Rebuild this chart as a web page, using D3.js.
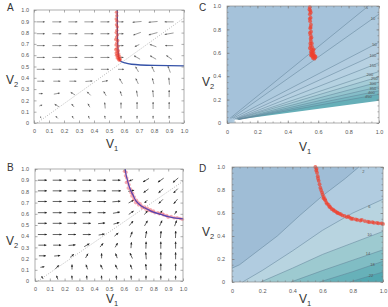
<!DOCTYPE html>
<html>
<head>
<meta charset="utf-8">
<script src="https://cdn.jsdelivr.net/npm/d3@7"></script>
<style>
  body { margin: 0; background: #fff; }
  svg { display: block; }
  text { font-family: "Liberation Sans", Arial, sans-serif; }
</style>
</head>
<body>
<svg id="fig" width="388" height="307"></svg>
<script>
// ---------- data ----------
const abTicks = [0, 0.1, 0.2, 0.3, 0.4, 0.5, 0.6, 0.7, 0.8, 0.9, 1.0];
const cdTicks = [0, 0.2, 0.4, 0.6, 0.8, 1.0];

// panel A vector field (angle in degrees, 0 = right, 90 = up; length in px)
const aCols = [0.045, 0.152, 0.259, 0.366, 0.473, 0.58, 0.687, 0.794, 0.901];
const aRows = [0.895, 0.79, 0.685, 0.58, 0.475, 0.37, 0.26, 0.155, 0.05];
const aAng = [
  [0, 0, 0, 0, 0, 0, 185, 185, 180],
  [0, 0, 0, 0, 0, 0, 200, 195, 190],
  [0, 0, 0, 0, 0, 0, 205, 160, 180],
  [0, 0, 0, 0, 0, 0, 150, 150, 145],
  [0, 0, 0, 0, 0, 0, 120, 115, 110],
  [0, 0, 0, 5, 10, 120, 115, 105, 95],
  [0, 10, 150, 135, 120, 110, 100, 95, 90],
  [20, 150, 130, 120, 95, 90, 90, 90, 90],
  [135, 135, 125, 110, 100, 90, 90, 90, 90]
];
const aLen = [
  [8, 9, 9, 9, 9, 5, 9, 9, 9],
  [8, 9, 9, 9, 9, 5, 8, 9, 9],
  [8, 9, 9, 9, 9, 5, 5, 7, 8],
  [8, 9, 9, 9, 9, 5, 7, 7, 7],
  [8, 9, 9, 9, 8, 6, 6, 6, 7],
  [7, 7, 7, 7, 6, 6, 6, 6, 7],
  [4, 6, 5, 5, 5, 5, 6, 7, 7],
  [3, 5, 4, 4, 6, 6, 7, 7, 7],
  [2, 3, 3, 3, 3, 3, 3, 3, 3]
];
const aCurve = [[0.555, 1.0], [0.556, 0.8], [0.56, 0.65], [0.565, 0.58], [0.575, 0.55],
  [0.6, 0.535], [0.65, 0.52], [0.8, 0.51], [1.0, 0.505]];
const aDots = [[0.55, 0.98], [0.552, 0.95], [0.548, 0.92], [0.553, 0.9], [0.55, 0.87], [0.555, 0.85],
  [0.552, 0.82], [0.548, 0.8], [0.556, 0.78], [0.55, 0.76], [0.545, 0.74], [0.558, 0.73], [0.552, 0.71],
  [0.547, 0.69], [0.56, 0.68], [0.553, 0.66], [0.545, 0.65], [0.562, 0.64], [0.555, 0.63], [0.548, 0.62],
  [0.565, 0.61], [0.558, 0.6], [0.55, 0.6], [0.57, 0.59], [0.562, 0.58], [0.555, 0.575], [0.572, 0.57],
  [0.565, 0.565], [0.575, 0.56], [0.568, 0.555]];
const aDiag = [[0.02, 0], [1.0, 0.93]];

// panel B vector field
const bCols = [0.05, 0.15, 0.25, 0.35, 0.45, 0.55, 0.65, 0.75, 0.85, 0.95];
const bRows = [0.9, 0.805, 0.71, 0.61, 0.515, 0.415, 0.32, 0.225, 0.125, 0.03];
const bAng = [
  [0, 0, 0, 0, 0, 0, 200, 210, 215, 220],
  [0, 0, 0, 0, 0, 0, 10, 215, 220, 225],
  [0, 0, 0, 0, 0, 5, 30, 225, 225, 230],
  [0, 0, 0, 0, 0, 10, 35, 50, 55, 60],
  [0, 0, 0, 0, 5, 15, 50, 60, 65, 70],
  [0, 0, 0, 0, 10, 40, 70, 80, 85, 88],
  [0, 0, 5, 30, 50, 60, 85, 88, 90, 90],
  [0, 5, 40, 60, 90, 110, 115, 95, 90, 90],
  [10, 45, 90, 110, 115, 115, 110, 95, 90, 90],
  [120, 110, 95, 95, 95, 95, 95, 90, 90, 90]
];
const bLen = [
  [9, 9, 9, 9, 9, 8, 4, 7, 7, 7],
  [9, 9, 9, 9, 9, 9, 6, 6, 6, 6],
  [9, 9, 9, 9, 9, 8, 6, 4, 6, 6],
  [9, 9, 9, 9, 8, 7, 6, 5, 5, 4],
  [9, 9, 9, 8, 7, 6, 6, 6, 6, 6],
  [9, 9, 8, 8, 6, 5, 6, 7, 7, 7],
  [8, 8, 7, 6, 5, 5, 6, 7, 7, 7],
  [7, 6, 5, 5, 5, 5, 6, 7, 7, 7],
  [4, 5, 5, 5, 5, 5, 5, 6, 7, 7],
  [3, 4, 4, 4, 4, 4, 4, 4, 4, 4]
];
const bCurve = [[0.61, 1.0], [0.615, 0.95], [0.625, 0.9], [0.635, 0.85], [0.65, 0.8], [0.665, 0.76],
  [0.68, 0.72], [0.7, 0.69], [0.73, 0.66], [0.76, 0.64], [0.8, 0.615], [0.85, 0.595], [0.9, 0.575],
  [0.95, 0.562], [1.0, 0.555]];
const bDots = [[0.605, 0.98], [0.615, 0.97], [0.612, 0.94], [0.62, 0.92], [0.628, 0.89], [0.618, 0.88],
  [0.635, 0.86], [0.63, 0.83], [0.645, 0.82], [0.648, 0.79], [0.66, 0.78], [0.655, 0.76], [0.67, 0.75],
  [0.668, 0.73], [0.685, 0.72], [0.68, 0.7], [0.695, 0.7], [0.7, 0.68], [0.71, 0.69], [0.72, 0.67],
  [0.725, 0.655], [0.74, 0.66], [0.75, 0.64], [0.76, 0.65], [0.77, 0.63], [0.78, 0.635], [0.79, 0.62],
  [0.8, 0.625], [0.81, 0.61], [0.83, 0.61], [0.84, 0.6], [0.86, 0.6], [0.87, 0.59], [0.89, 0.585],
  [0.9, 0.57], [0.92, 0.575], [0.94, 0.565], [0.96, 0.565], [0.98, 0.558], [0.995, 0.552]];
const bDiag = [[0.02, 0], [1.0, 0.89]];

// panel C contours (top to bottom), last one = edge of the shaded region
const cLevels = ["5", "10", "50", "100", "150", "200", "250", "300", "350", "400", "450", ""];
const cStartX = [0.02, 0.03, 0.04, 0.05, 0.06, 0.065, 0.07, 0.07, 0.075, 0.075, 0.08, 0.05];
const cStartY = [0.04, 0.04, 0.04, 0.035, 0.035, 0.035, 0.035, 0.03, 0.03, 0.03, 0.03, 0.025];
const cEndX = [0.93, 1, 1, 1, 1, 1, 1, 1, 1, 1, 1, 1];
const cEndY = [1.0, 0.93, 0.69, 0.6, 0.515, 0.44, 0.395, 0.35, 0.31, 0.275, 0.245, 0.19];
const cLabX = [0.92, 0.96, 0.97, 0.96, 0.96, 0.94, 0.97, 0.96, 0.96, 0.95, 0.93];
const cDots = [[0.545, 0.99], [0.548, 0.96], [0.545, 0.93], [0.55, 0.9], [0.547, 0.87], [0.552, 0.84],
  [0.548, 0.81], [0.553, 0.78], [0.55, 0.75], [0.556, 0.73], [0.552, 0.7], [0.558, 0.68], [0.55, 0.66],
  [0.56, 0.65], [0.555, 0.63], [0.565, 0.62], [0.552, 0.61], [0.562, 0.6], [0.57, 0.6], [0.558, 0.585],
  [0.568, 0.58], [0.575, 0.575], [0.56, 0.57], [0.57, 0.565], [0.58, 0.56], [0.565, 0.555], [0.575, 0.55],
  [0.542, 0.97], [0.551, 0.945], [0.544, 0.89], [0.55, 0.82], [0.545, 0.77], [0.55, 0.72], [0.548, 0.68],
  [0.545, 0.64], [0.57, 0.63], [0.556, 0.6], [0.582, 0.57], [0.552, 0.58]];

// panel D contours (top to bottom)
const dLevels = ["2", "6", "10", "14", "18", "22"];
const dLines = [
  [[0.0, 0.12], [0.05, 0.15], [0.1, 0.2], [0.2, 0.3], [0.3, 0.4], [0.45, 0.58], [0.6, 0.75], [0.75, 0.9], [0.84, 1.0]],
  [[0.07, 0.0], [0.2, 0.1], [0.4, 0.27], [0.6, 0.45], [0.8, 0.6], [1.0, 0.72]],
  [[0.19, 0.0], [0.4, 0.12], [0.6, 0.24], [0.8, 0.34], [1.0, 0.44]],
  [[0.39, 0.0], [0.6, 0.1], [0.8, 0.19], [1.0, 0.28]],
  [[0.58, 0.0], [0.8, 0.09], [1.0, 0.18]],
  [[0.78, 0.0], [1.0, 0.087]]
];
const dLab = [[0.87, 0.96], [0.91, 0.66], [0.91, 0.41], [0.9, 0.25], [0.93, 0.15], [0.92, 0.06]];
const dDots = [[0.552, 1.0], [0.558, 0.97], [0.563, 0.95], [0.568, 0.92], [0.574, 0.88], [0.58, 0.85],
  [0.585, 0.82], [0.596, 0.78], [0.6, 0.76], [0.608, 0.74], [0.618, 0.71], [0.625, 0.69], [0.64, 0.67],
  [0.651, 0.65], [0.66, 0.635], [0.675, 0.62], [0.695, 0.605], [0.71, 0.595], [0.73, 0.58], [0.76, 0.565],
  [0.78, 0.56], [0.8, 0.55], [0.83, 0.54], [0.85, 0.535], [0.88, 0.53], [0.91, 0.52], [0.94, 0.515],
  [0.97, 0.51], [1.0, 0.505],
  [0.56, 0.985], [0.57, 0.9], [0.59, 0.8], [0.605, 0.73], [0.615, 0.72], [0.63, 0.68], [0.645, 0.655],
  [0.67, 0.63], [0.685, 0.615], [0.7, 0.6], [0.72, 0.59], [0.745, 0.575], [0.77, 0.57], [0.79, 0.55],
  [0.82, 0.545], [0.86, 0.54], [0.9, 0.525], [0.93, 0.52], [0.96, 0.515], [0.99, 0.51]];

// ---------- drawing ----------
const svg = d3.select("#fig");
const fmt1 = d => d === 0 ? "0" : d3.format(".1f")(d);

function panel(box) {
  const g = svg.append("g").attr("transform", `translate(${box.x0},${box.y0})`);
  const x = d3.scaleLinear().domain([0, 1]).range([0, box.x1 - box.x0]);
  const y = d3.scaleLinear().domain([0, 1]).range([box.y1 - box.y0, 0]);
  return { g, x, y, w: box.x1 - box.x0, h: box.y1 - box.y0 };
}

function axes(p, major, minor, pad) {
  const { g, x, y, w, h } = p;
  const style = sel => {
    sel.select(".domain").remove();
    sel.selectAll("line").attr("stroke", "#777").attr("stroke-width", 0.6);
    sel.selectAll("text").attr("font-size", 5.5).attr("fill", "#555")
      .attr("font-family", "Liberation Sans, Arial, sans-serif");
  };
  if (minor) {
    [[d3.axisBottom, `translate(0,${h})`], [d3.axisTop, "translate(0,0)"]].forEach(([ax, t]) =>
      g.append("g").attr("transform", t).call(ax(x).tickValues(minor).tickSize(-1.5).tickFormat("")).call(style));
    [[d3.axisLeft, "translate(0,0)"], [d3.axisRight, `translate(${w},0)`]].forEach(([ax, t]) =>
      g.append("g").attr("transform", t).call(ax(y).tickValues(minor).tickSize(-1.5).tickFormat("")).call(style));
  }
  g.append("g").attr("transform", `translate(0,${h})`)
    .call(d3.axisBottom(x).tickValues(major).tickSize(-2.5).tickPadding(pad[0]).tickFormat(fmt1)).call(style);
  g.append("g").call(d3.axisTop(x).tickValues(major).tickSize(-2.5).tickFormat("")).call(style);
  g.append("g")
    .call(d3.axisLeft(y).tickValues(major).tickSize(-2.5).tickPadding(pad[1]).tickFormat(fmt1)).call(style);
  g.append("g").attr("transform", `translate(${w},0)`)
    .call(d3.axisRight(y).tickValues(major).tickSize(-2.5).tickFormat("")).call(style);
  g.append("rect").attr("width", w).attr("height", h)
    .attr("fill", "none").attr("stroke", "#8a8a8a").attr("stroke-width", 0.7);
}

function vLabel(cx, cy, sub) {
  const t = svg.append("text").attr("x", cx).attr("y", cy)
    .attr("font-size", 12).attr("fill", "#333").attr("text-anchor", "middle");
  t.append("tspan").text("V");
  t.append("tspan").attr("font-size", 7.5).attr("dy", 2.5).text(sub);
}

function letter(x, y, s) {
  svg.append("text").attr("x", x).attr("y", y).attr("font-size", 10).attr("fill", "#333").text(s);
}

function field(p, cols, rows, ang, len, col, sw, head) {
  const fg = p.g.append("g");
  rows.forEach((ry, i) => cols.forEach((cx, j) => {
    const a = ang[i][j] * Math.PI / 180, L = len[i][j];
    const px = p.x(cx), py = p.y(ry);
    const ux = Math.cos(a), uy = -Math.sin(a);
    const x1 = px - ux * L / 2, y1 = py - uy * L / 2;
    const x2 = px + ux * L / 2, y2 = py + uy * L / 2;
    fg.append("line").attr("x1", x1).attr("y1", y1).attr("x2", x2).attr("y2", y2)
      .attr("stroke", col).attr("stroke-width", sw);
    const hl = Math.min(head, L * 0.45), hw = head / 2;
    const bx = x2 - ux * hl, by = y2 - uy * hl;
    fg.append("path")
      .attr("d", `M${x2},${y2}L${bx - uy * hw},${by + ux * hw}L${bx + uy * hw},${by - ux * hw}Z`)
      .attr("fill", col);
  }));
}

function dots(p, pts, r, col, op) {
  p.g.append("g").selectAll("circle").data(pts).join("circle")
    .attr("cx", d => p.x(d[0])).attr("cy", d => p.y(d[1])).attr("r", r)
    .attr("fill", col).attr("fill-opacity", op);
}

function curve(p, pts, col, wdt) {
  p.g.append("path").datum(pts)
    .attr("d", d3.line().x(d => p.x(d[0])).y(d => p.y(d[1])).curve(d3.curveMonotoneY))
    .attr("fill", "none").attr("stroke", col).attr("stroke-width", wdt);
}

function diag(p, pts) {
  p.g.append("path").datum(pts)
    .attr("d", d3.line().x(d => p.x(d[0])).y(d => p.y(d[1])))
    .attr("stroke", "#888").attr("stroke-width", 0.6).attr("stroke-dasharray", "1,1.5");
}

// ---- A ----
const pA = panel({ x0: 34, x1: 184, y0: 10, y1: 123 });
diag(pA, aDiag);
field(pA, aCols, aRows, aAng, aLen, "#555", 0.6, 1.8);
curve(pA, aCurve, "#3552a8", 1.3);
dots(pA, aDots, 1.7, "#ee3a2a", 0.55);
axes(pA, abTicks, null, [6, 5]);
letter(7, 11, "A");
vLabel(112, 148, "1");
vLabel(12, 84, "2");

// ---- B ----
const pB = panel({ x0: 35, x1: 183, y0: 169, y1: 281 });
diag(pB, bDiag);
field(pB, bCols, bRows, bAng, bLen, "#222", 0.7, 2.2);
dots(pB, bDots, 1.8, "#ee4a5a", 0.45);
curve(pB, bCurve, "#5545b0", 1.2);
axes(pB, abTicks, null, [6, 6]);
letter(7, 171, "B");
vLabel(12, 245, "2");
vLabel(112, 303, "1");

// ---- C ----
const pC = panel({ x0: 227, x1: 379, y0: 6, y1: 123 });
const cColor = d3.scaleLinear().domain([0, 4, 6, 11]).range(["#a5c2da", "#b7d1e2", "#b3d3df", "#66afb8"]);
pC.g.append("rect").attr("width", pC.w).attr("height", pC.h).attr("fill", cColor(0));
const cLine = i => [[cStartX[i], cStartY[i]], [cEndX[i], cEndY[i]]];
cLevels.forEach((lv, i) => {
  const pts = cLine(i).concat(cEndX[i] < 1 ? [[1, 1]] : []).concat([[1, 0], [cStartX[i], 0]]);
  pC.g.append("path").datum(pts)
    .attr("d", d3.line().x(d => pC.x(d[0])).y(d => pC.y(d[1])))
    .attr("fill", lv === "" ? "#fff" : cColor(i + 1));
});
cLevels.forEach((lv, i) => {
  if (lv === "") return;
  pC.g.append("path").datum(cLine(i))
    .attr("d", d3.line().x(d => pC.x(d[0])).y(d => pC.y(d[1])))
    .attr("stroke", "#5d7f94").attr("stroke-width", 0.5).attr("fill", "none");
  const lx = cLabX[i];
  const ly = cStartY[i] + (cEndY[i] - cStartY[i]) * (lx - cStartX[i]) / (cEndX[i] - cStartX[i]);
  pC.g.append("text").attr("x", pC.x(lx)).attr("y", pC.y(ly) + 1.5)
    .attr("font-size", 4).attr("fill", "#555").attr("text-anchor", "middle").text(lv);
});
dots(pC, cDots, 1.9, "#f0402e", 0.7);
axes(pC, cdTicks, d3.range(0, 1.001, 0.05), [7, 6]);
letter(199, 11, "C");
vLabel(305, 151, "1");
vLabel(208, 86, "2");

// ---- D ----
const pD = panel({ x0: 232, x1: 383, y0: 167, y1: 282 });
const dFill = ["#9fbdd6", "#b1cce0", "#b8d4e0", "#9dcad0", "#80bdc4", "#67b1b9", "#52a7b0"];
pD.g.append("rect").attr("width", pD.w).attr("height", pD.h).attr("fill", dFill[0]);
dLines.forEach((pts, i) => {
  const last = pts[pts.length - 1];
  const poly = (pts[0][0] === 0 ? [[0, 0]] : []).concat(pts)
    .concat(last[0] < 1 ? [[1, 1]] : []).concat([[1, 0], [pts[0][0], 0]]);
  pD.g.append("path").datum(poly)
    .attr("d", d3.line().x(d => pD.x(d[0])).y(d => pD.y(d[1])))
    .attr("fill", dFill[i + 1]);
});
dLines.forEach((pts, i) => {
  pD.g.append("path").datum(pts)
    .attr("d", d3.line().x(d => pD.x(d[0])).y(d => pD.y(d[1])))
    .attr("stroke", "#5d7f94").attr("stroke-width", 0.5).attr("fill", "none");
  pD.g.append("text").attr("x", pD.x(dLab[i][0])).attr("y", pD.y(dLab[i][1]) + 1.5)
    .attr("font-size", 4).attr("fill", "#555").attr("text-anchor", "middle").text(dLevels[i]);
});
dots(pD, dDots, 1.9, "#f0402e", 0.7);
axes(pD, cdTicks, d3.range(0, 1.001, 0.05), [7, 7]);
letter(199, 172, "D");
vLabel(305, 303, "1");
vLabel(208, 236, "2");
</script>
</body>
</html>
